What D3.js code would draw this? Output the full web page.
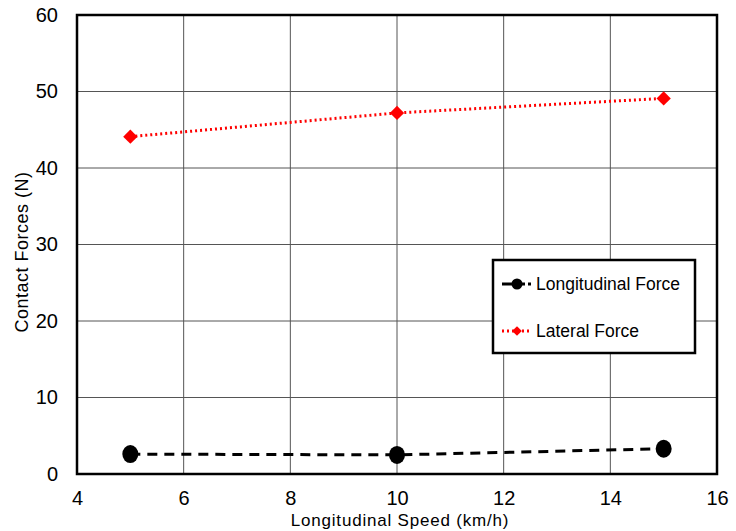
<!DOCTYPE html>
<html>
<head>
<meta charset="utf-8">
<script src="https://cdn.jsdelivr.net/npm/d3@7"></script>
<style>
  body { margin: 0; background: #fff; }
  text { font-family: "Liberation Sans", Arial, sans-serif; }
</style>
</head>
<body>
<svg id="chart" width="736" height="531"></svg>
<script>
/* chart values */
const speeds = [5, 10, 15];
const longitudinalForce = [2.6, 2.5, 3.3];
const lateralForce = [44.1, 47.2, 49.1];
const xTicks = [4, 6, 8, 10, 12, 14, 16];
const yTicks = [0, 10, 20, 30, 40, 50, 60];
const seriesNames = ['Longitudinal Force', 'Lateral Force'];

const width = 736, height = 531;
const margin = { left: 77, right: 19, top: 15, bottom: 57 };

const svg = d3.select('#chart');

const xScale = d3.scaleLinear().domain([4, 16]).range([margin.left, width - margin.right]);
const yScale = d3.scaleLinear().domain([0, 60]).range([height - margin.bottom, margin.top]);

/* grid lines */
svg.append('g')
  .selectAll('line')
  .data(xTicks)
  .join('line')
  .attr('x1', d => xScale(d)).attr('x2', d => xScale(d))
  .attr('y1', yScale(0)).attr('y2', yScale(60))
  .attr('stroke', '#555').attr('stroke-width', 1);

svg.append('g')
  .selectAll('line')
  .data(yTicks)
  .join('line')
  .attr('x1', xScale(4)).attr('x2', xScale(16))
  .attr('y1', d => yScale(d)).attr('y2', d => yScale(d))
  .attr('stroke', '#555').attr('stroke-width', 1);

/* axes (labels only, frame drawn separately) */
const xAxis = d3.axisBottom(xScale).tickValues(xTicks).tickSize(0).tickPadding(17);
const yAxis = d3.axisLeft(yScale).tickValues(yTicks).tickSize(0).tickPadding(19);

const gx = svg.append('g')
  .attr('transform', `translate(0,${yScale(0)})`)
  .call(xAxis);
const gy = svg.append('g')
  .attr('transform', `translate(${xScale(4)},0)`)
  .call(yAxis);

[gx, gy].forEach(g => {
  g.select('.domain').remove();
  g.selectAll('text').attr('font-size', 20).attr('fill', '#000')
    .attr('font-family', '"Liberation Sans", Arial, sans-serif');
});

/* plot frame */
svg.append('rect')
  .attr('x', xScale(4)).attr('y', yScale(60))
  .attr('width', xScale(16) - xScale(4))
  .attr('height', yScale(0) - yScale(60))
  .attr('fill', 'none').attr('stroke', '#000').attr('stroke-width', 2.5);

/* axis titles */
svg.append('text')
  .attr('x', 400).attr('y', 526)
  .attr('text-anchor', 'middle').attr('font-size', 17)
  .attr('letter-spacing', 0.8)
  .text('Longitudinal Speed (km/h)');

svg.append('text')
  .attr('transform', `translate(28,252) rotate(-90)`)
  .attr('text-anchor', 'middle').attr('font-size', 18)
  .attr('letter-spacing', 0.5)
  .text('Contact Forces (N)');

/* lines */
const line = d3.line()
  .x((d, i) => xScale(speeds[i]))
  .y(d => yScale(d));

svg.append('path')
  .attr('d', line(lateralForce))
  .attr('fill', 'none').attr('stroke', '#ff0000')
  .attr('stroke-width', 3).attr('stroke-dasharray', '2,3');

svg.append('path')
  .attr('d', line(longitudinalForce))
  .attr('fill', 'none').attr('stroke', '#000')
  .attr('stroke-width', 3).attr('stroke-dasharray', '10,7');

/* markers */
const diamond = d3.symbol().type(d3.symbolDiamond2).size(130);

svg.append('g')
  .selectAll('path')
  .data(lateralForce)
  .join('path')
  .attr('d', diamond)
  .attr('transform', (d, i) => `translate(${xScale(speeds[i])},${yScale(d)})`)
  .attr('fill', '#ff0000');

svg.append('g')
  .selectAll('ellipse')
  .data(longitudinalForce)
  .join('ellipse')
  .attr('cx', (d, i) => xScale(speeds[i]))
  .attr('cy', d => yScale(d))
  .attr('rx', 8).attr('ry', 9)
  .attr('fill', '#000');

/* legend */
const legend = svg.append('g').attr('transform', 'translate(493,260)');
legend.append('rect')
  .attr('width', 202).attr('height', 93)
  .attr('fill', '#fff').attr('stroke', '#000').attr('stroke-width', 2.5);

const legendRows = legend.selectAll('g.row')
  .data(seriesNames)
  .join('g')
  .attr('transform', (d, i) => `translate(0,${24 + i * 47})`);

legendRows.append('line')
  .attr('x1', 9).attr('x2', 38).attr('y1', 0).attr('y2', 0)
  .attr('stroke', (d, i) => i === 0 ? '#000' : '#ff0000')
  .attr('stroke-width', 3)
  .attr('stroke-dasharray', (d, i) => i === 0 ? '10,3' : '2,3');

legendRows.each(function(d, i) {
  const g = d3.select(this);
  if (i === 0) {
    g.append('circle').attr('cx', 24).attr('cy', 0).attr('r', 5.5).attr('fill', '#000');
  } else {
    g.append('path').attr('d', d3.symbol().type(d3.symbolDiamond2).size(60))
      .attr('transform', 'translate(24,0)').attr('fill', '#ff0000');
  }
});

legendRows.append('text')
  .attr('x', 43).attr('y', 0).attr('dy', '0.35em')
  .attr('font-size', 17.5)
  .text(d => d);
</script>
</body>
</html>
